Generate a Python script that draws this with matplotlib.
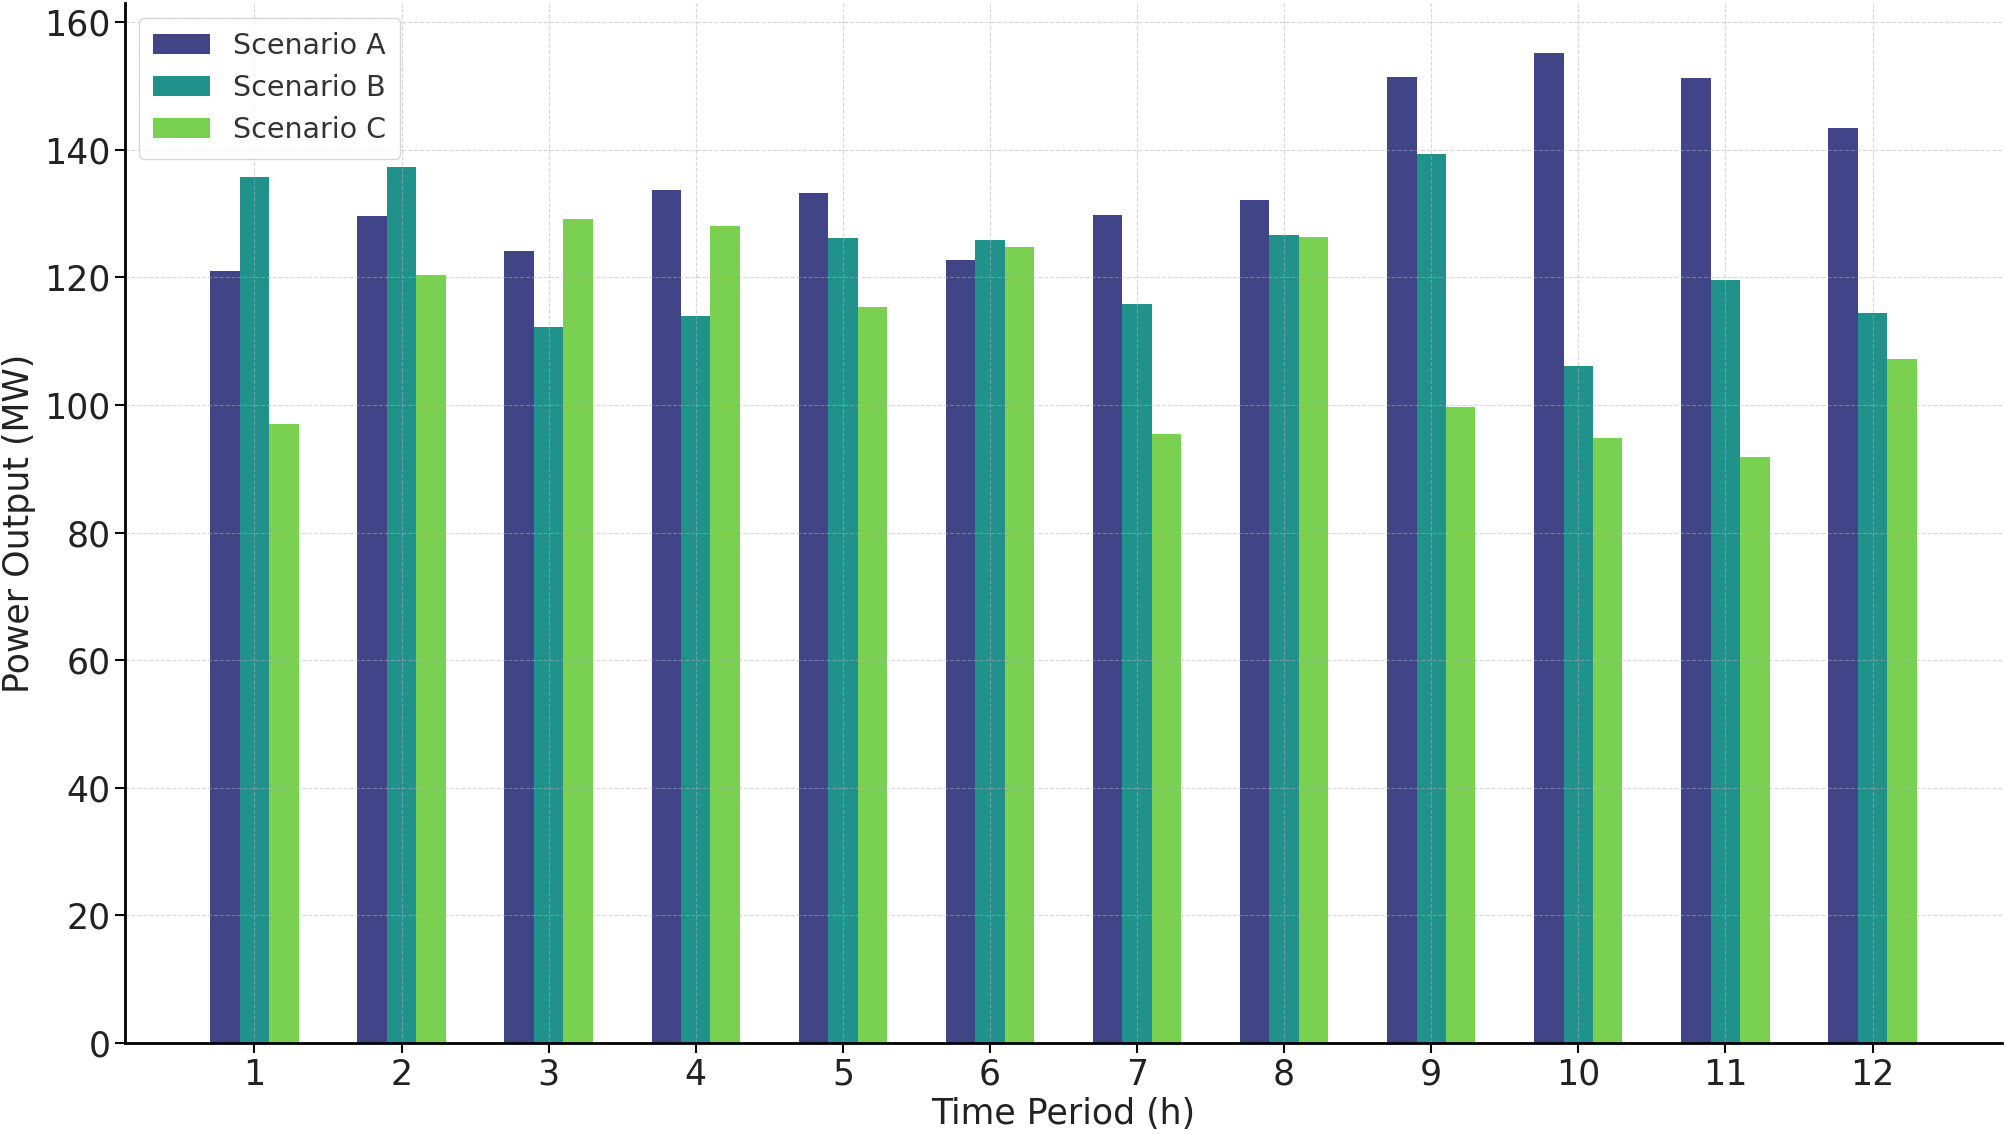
import numpy as np
import matplotlib.pyplot as plt

# ==========================================
# Data
# ==========================================

periods = [1, 2, 3, 4, 5, 6, 7, 8, 9, 10, 11, 12]
scenario_a = [121.0, 129.6, 124.2, 133.7, 133.3, 122.8, 129.8, 132.1, 151.4, 155.2, 151.2, 143.5]
scenario_b = [135.7, 137.3, 112.2, 114.0, 126.2, 125.8, 115.8, 126.6, 139.3, 106.1, 119.6, 114.4]
scenario_c = [97.1, 120.4, 129.2, 128.0, 115.4, 124.8, 95.5, 126.4, 99.7, 94.9, 91.9, 107.3]

series_names = ["Scenario A", "Scenario B", "Scenario C"]
colors = ["#414487", "#21918c", "#7ad151"]

# ==========================================
# Plot
# ==========================================

fig = plt.figure(figsize=(20.06, 11.34), dpi=100)
ax = fig.add_axes([0.0623, 0.0802, 0.9357, 0.9168])

x = np.array(periods)
width = 0.2

for i, (vals, name) in enumerate(zip([scenario_a, scenario_b, scenario_c], series_names)):
    ax.bar(x + (i - 1) * width, vals, width, label=name, color=colors[i])

ax.set_xticks(periods)
ax.tick_params(axis="both", labelsize=25, length=7, width=1.5, labelcolor="#222222")
ax.set_xlabel("Time Period (h)", fontsize=25, labelpad=4, color="#222222")
ax.set_ylabel("Power Output (MW)", fontsize=25, labelpad=6, color="#222222")

ax.grid(True, linestyle="--", alpha=0.5)

for side in ["top", "right"]:
    ax.spines[side].set_visible(False)
for side in ["left", "bottom"]:
    ax.spines[side].set_linewidth(2)

ax.legend(loc="upper left", fontsize=20.5, handlelength=2.0, borderpad=0.5,
          labelcolor="#333333")

fig.savefig("out.png", dpi=100)
